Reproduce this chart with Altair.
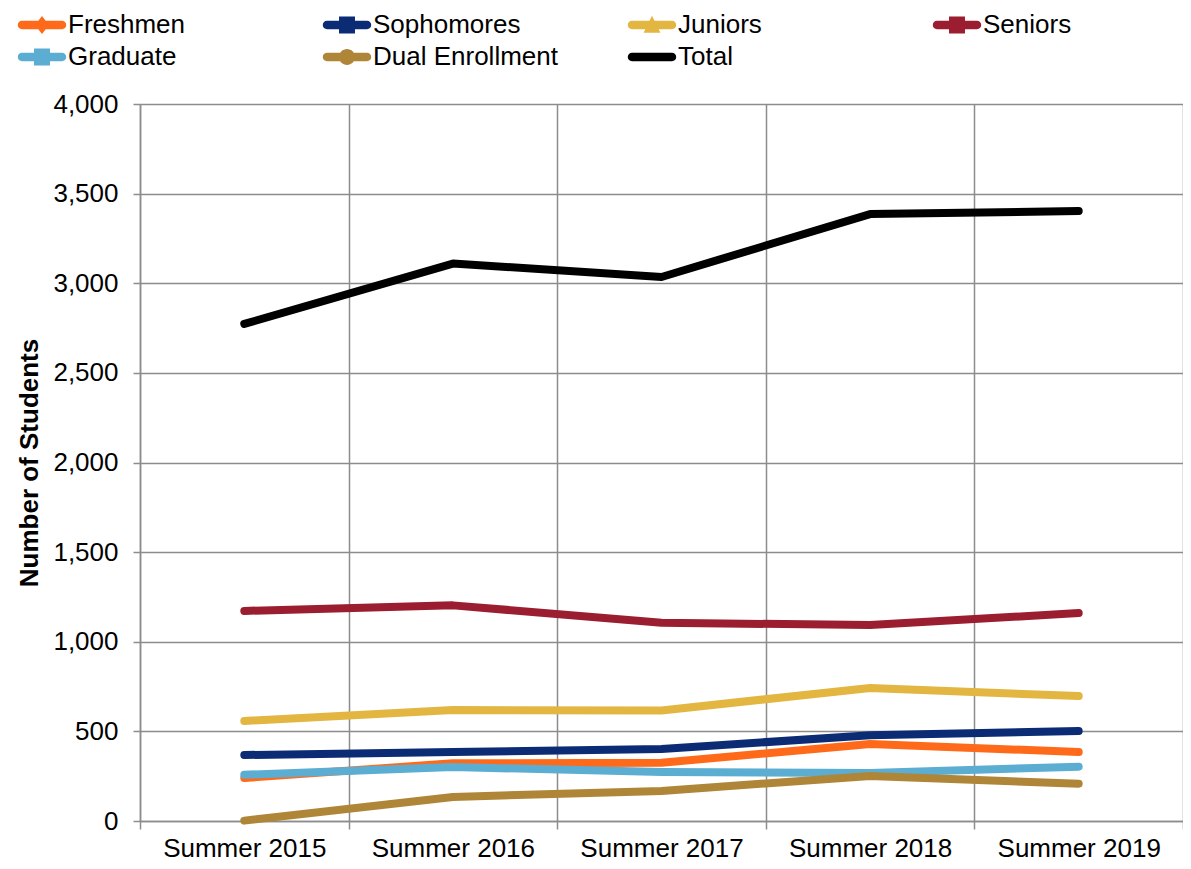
import altair as alt
import pandas as pd

terms = ["Summer 2015", "Summer 2016", "Summer 2017", "Summer 2018", "Summer 2019"]
series = ["Freshmen", "Sophomores", "Juniors", "Seniors", "Graduate", "Dual Enrollment", "Total"]
freshmen = [240, 322, 325, 430, 385]
sophomores = [368, 385, 402, 478, 502]
juniors = [558, 619, 617, 742, 697]
seniors = [1172, 1203, 1106, 1093, 1160]
graduate = [258, 301, 273, 268, 303]
dual = [2, 134, 168, 251, 208]
total = [2773, 3110, 3035, 3386, 3403]
colors = ["#FF6A1A", "#0B2C74", "#E3B641", "#9B1D30", "#5BAED2", "#AF8638", "#000000"]

values = [freshmen, sophomores, juniors, seniors, graduate, dual, total]
rows = []
for s, vals in zip(series, values):
    for t, v in zip(terms, vals):
        rows.append({"term": t, "series": s, "students": v})
df = pd.DataFrame(rows)

bar = "M-1.43,-0.3L1.43,-0.3A0.3,0.3 0 0 1 1.43,0.3L-1.43,0.3A0.3,0.3 0 0 1 -1.43,-0.3Z"
diamond = "M0,-0.64L0.5,0L0,0.64L-0.5,0Z"
square = "M-0.57,-0.6L0.57,-0.6L0.57,0.6L-0.57,0.6Z"
triangle = "M0,-0.66L0.6,0.55L-0.6,0.55Z"
circle = "M-0.57,0A0.57,0.57 0 1 1 0.57,0A0.57,0.57 0 1 1 -0.57,0Z"
shapes = [bar + diamond, bar + square, bar + triangle, bar + square, bar + square, bar + circle, bar]

FONT = "Liberation Sans"
GRID = "#8C8C8C"
FS = 26

x_enc = alt.X(
    "term:N",
    sort=terms,
    bandPosition=0.5,
    scale=alt.Scale(type="band", paddingInner=0, paddingOuter=0),
    axis=alt.Axis(
        title=None,
        tickBand="extent",
        grid=True,
        gridColor=GRID,
        gridWidth=1.5,
        domainColor=GRID,
        domainWidth=1.5,
        tickColor=GRID,
        tickWidth=1.5,
        tickSize=8,
        labelFont=FONT,
        labelFontSize=FS,
        labelColor="#000000",
        labelPadding=6,
        labelAngle=0,
    ),
)
y_enc = alt.Y(
    "students:Q",
    scale=alt.Scale(domain=[0, 4000], nice=False),
    axis=alt.Axis(
        title="Number of Students",
        titleFont=FONT,
        titleFontSize=FS,
        titleFontWeight="bold",
        titleColor="#000000",
        titlePadding=10,
        values=[0, 500, 1000, 1500, 2000, 2500, 3000, 3500, 4000],
        format=",.0f",
        grid=True,
        gridColor=GRID,
        gridWidth=1.5,
        domainColor=GRID,
        domainWidth=1.5,
        tickColor=GRID,
        tickWidth=1.5,
        tickSize=7,
        labelFont=FONT,
        labelFontSize=FS,
        labelColor="#000000",
        labelPadding=15,
    ),
)

color_scale = alt.Scale(domain=series, range=colors)

lines = alt.Chart(df).mark_line(strokeWidth=8, strokeCap="round", strokeJoin="round").encode(
    x=x_enc,
    y=y_enc,
    color=alt.Color("series:N", scale=color_scale, legend=None, sort=series),
    order=alt.Order("term:N"),
)

legend = alt.Legend(
    title=None,
    orient="none",
    legendX=-112,
    legendY=-93,
    direction="horizontal",
    columns=4,
    columnPadding=69,
    rowPadding=5,
    gridAlign="all",
    symbolSize=784,
    symbolStrokeWidth=0,
    symbolOpacity=1,
    labelFont=FONT,
    labelFontSize=FS,
    labelColor="#000000",
    labelOffset=12,
    labelLimit=400,
    padding=0,
)

points = alt.Chart(df).mark_point(filled=True, opacity=0).encode(
    x=x_enc,
    y=y_enc,
    color=alt.Color("series:N", scale=color_scale, legend=legend, sort=series),
    shape=alt.Shape("series:N", scale=alt.Scale(domain=series, range=shapes), legend=legend, sort=series),
)

chart = alt.layer(points, lines).properties(
    width=1043,
    height=717,
    autosize=alt.AutoSizeParams(type="none"),
    padding={"left": 132, "top": 96, "right": 0, "bottom": 40},
).configure_view(stroke=None).configure(background="white")

chart.save("out.html", embed_options={"renderer": "svg", "actions": False})
